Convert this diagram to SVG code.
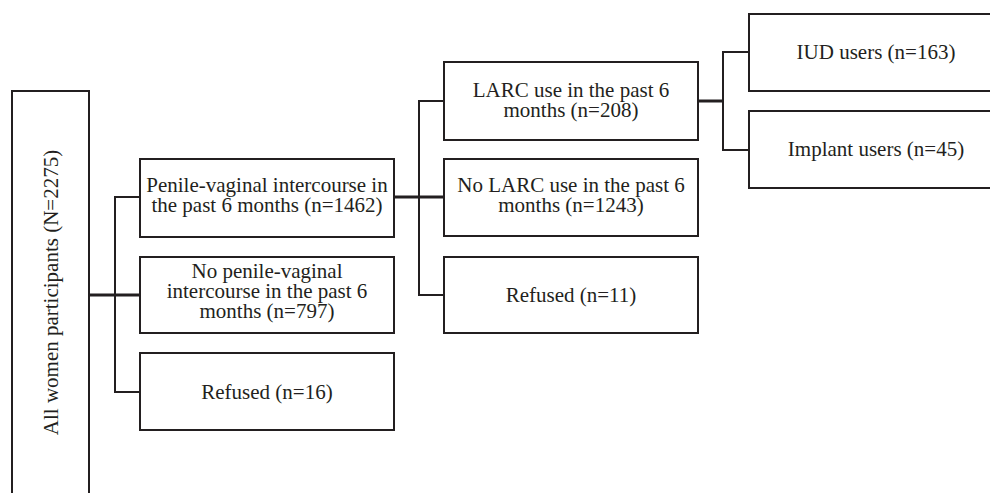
<svg xmlns="http://www.w3.org/2000/svg" width="990" height="493" viewBox="0 0 990 493">
<style>
.box{fill:#fff;stroke:#231f20;stroke-width:2}
.t{font-family:"Liberation Serif","Times New Roman",serif;font-size:21px;fill:#231f20;text-anchor:middle}
.c{fill:none;stroke:#231f20;stroke-width:2}
.ct{fill:none;stroke:#231f20;stroke-width:3}
</style>
<rect width="990" height="493" fill="#fff"/>
<g id="connectors">
<path class="ct" d="M89 295H139"/>
<path class="c" d="M139 197H115V392H139"/>
<path class="ct" d="M394 197H444"/>
<path class="c" d="M444 101H419V295H444"/>
<path class="ct" d="M698 101H723"/>
<path class="c" d="M749 52H723V150H749"/>
</g>
<g id="all">
<rect class="box" x="12" y="91" width="77" height="410"/>
<text class="t" transform="translate(58,292.5) rotate(-90)">All women participants (N=2275)</text>
</g>
<g id="pvi">
<rect class="box" x="140" y="159" width="254" height="78"/>
<text class="t" x="267" y="192">Penile-vaginal intercourse in</text>
<text class="t" x="267" y="212">the past 6 months (n=1462)</text>
</g>
<g id="nopvi">
<rect class="box" x="140" y="257" width="254" height="76"/>
<text class="t" x="267" y="278">No penile-vaginal</text>
<text class="t" x="267" y="298">intercourse in the past 6</text>
<text class="t" x="267" y="318">months (n=797)</text>
</g>
<g id="refused16">
<rect class="box" x="140" y="353" width="254" height="77"/>
<text class="t" x="267" y="399">Refused (n=16)</text>
</g>
<g id="larc">
<rect class="box" x="444" y="62" width="254" height="78"/>
<text class="t" x="571" y="97">LARC use in the past 6</text>
<text class="t" x="571" y="117">months (n=208)</text>
</g>
<g id="nolarc">
<rect class="box" x="444" y="159" width="254" height="77"/>
<text class="t" x="571" y="192">No LARC use in the past 6</text>
<text class="t" x="571" y="212">months (n=1243)</text>
</g>
<g id="refused11">
<rect class="box" x="444" y="257" width="254" height="76"/>
<text class="t" x="571" y="302">Refused (n=11)</text>
</g>
<g id="iud">
<rect class="box" x="749" y="14" width="254" height="77"/>
<text class="t" x="876" y="59">IUD users (n=163)</text>
</g>
<g id="implant">
<rect class="box" x="749" y="111" width="254" height="77"/>
<text class="t" x="876" y="156">Implant users (n=45)</text>
</g>
</svg>
